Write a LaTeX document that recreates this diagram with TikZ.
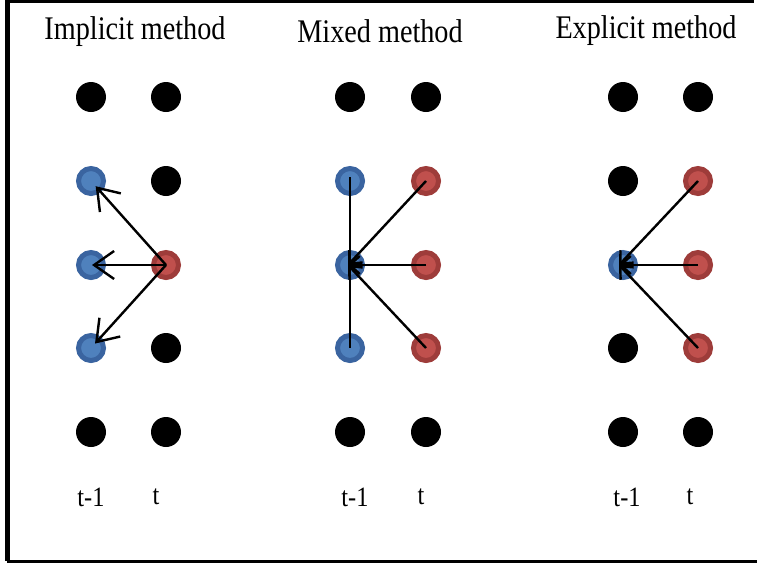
\documentclass[tikz,border=0pt]{standalone}
\usepackage{fontspec}
\setmainfont{Liberation Serif}
\usetikzlibrary{arrows.meta}
\definecolor{blueFill}{HTML}{4F81BD}
\definecolor{blueEdge}{HTML}{3A64A0}
\definecolor{redFill}{HTML}{C0504D}
\definecolor{redEdge}{HTML}{9E3C3A}
\tikzset{
  grid dot/.style={circle, inner sep=0pt, minimum size=30pt, fill=black},
  past dot/.style={circle, inner sep=0pt, minimum size=25pt, fill=blueFill, draw=blueEdge, line width=5pt},
  now dot/.style={circle, inner sep=0pt, minimum size=25pt, fill=redFill, draw=redEdge, line width=5pt},
  title/.style={font=\fontsize{33}{33}\selectfont, xscale=0.855, inner sep=0pt},
  timelabel/.style={font=\fontsize{28}{28}\selectfont, xscale=0.87, inner sep=0pt},
  link/.style={line width=2.4pt, black},
  bigarrow/.style={link, -{Straight Barb[length=20pt, width=28pt, line width=2.4pt]}},
  smallarrow/.style={link, -{Straight Barb[length=10pt, width=18pt, line width=2.4pt]}},
  frame/.style={black, line cap=rect}
}
\begin{document}
\begin{tikzpicture}[x=1pt, y=-1pt]
  \useasboundingbox (0,0) rectangle (757,565);
  \fill[white] (0,0) rectangle (757,565);

  % open frame
  \draw[frame, line width=3pt] (6,1.5) -- (752,1.5);
  \draw[frame, line width=5pt] (7.5,1) -- (7.5,558);
  \draw[frame, line width=3pt] (8,561.5) -- (757,561.5);

  % titles
  \node[title] (tImp) at (135,32) {Implicit method};
  \node[title] (tMix) at (380,31) {Mixed method};
  \node[title] (tExp) at (646,31) {Explicit method};

  % implicit method grid
  \node[grid dot] (a1) at (91,97) {};
  \node[grid dot] (b1) at (166,97) {};
  \node[past dot] (a2) at (91,181) {};
  \node[grid dot] (b2) at (166,181) {};
  \node[past dot] (a3) at (91,265) {};
  \node[now dot]  (b3) at (166,265) {};
  \node[past dot] (a4) at (91,348) {};
  \node[grid dot] (b4) at (166,348) {};
  \node[grid dot] (a5) at (91,432) {};
  \node[grid dot] (b5) at (166,432) {};

  % mixed method grid
  \node[grid dot] (c1) at (350,97) {};
  \node[grid dot] (d1) at (426,97) {};
  \node[past dot] (c2) at (350,181) {};
  \node[now dot]  (d2) at (426,181) {};
  \node[past dot] (c3) at (350,265) {};
  \node[now dot]  (d3) at (426,265) {};
  \node[past dot] (c4) at (350,348) {};
  \node[now dot]  (d4) at (426,348) {};
  \node[grid dot] (c5) at (350,432) {};
  \node[grid dot] (d5) at (426,432) {};

  % explicit method grid
  \node[grid dot] (e1) at (623,97) {};
  \node[grid dot] (f1) at (698,97) {};
  \node[grid dot] (e2) at (623,181) {};
  \node[now dot]  (f2) at (698,181) {};
  \node[past dot] (e3) at (623,265) {};
  \node[now dot]  (f3) at (698,265) {};
  \node[grid dot] (e4) at (623,348) {};
  \node[now dot]  (f4) at (698,348) {};
  \node[grid dot] (e5) at (623,432) {};
  \node[grid dot] (f5) at (698,432) {};

  % implicit connectors
  \draw[bigarrow, shorten >=7pt] (b3.center) -- (a2.center);
  \draw[bigarrow, shorten >=1pt] (b3.center) -- (a3.center);
  \draw[bigarrow, shorten >=6pt] (b3.center) -- (a4.center);

  % mixed connectors
  \draw[link] ([yshift=4pt]c2.center) -- (c4.center);
  \draw[smallarrow] (d2.center) -- ([xshift=-2pt]c3.center);
  \draw[smallarrow] (d3.center) -- ([xshift=-2pt]c3.center);
  \draw[smallarrow] (d4.center) -- ([xshift=-2pt]c3.center);

  % explicit connectors
  \draw[smallarrow] (f2.center) -- ([xshift=-4pt]e3.center);
  \draw[smallarrow] (f3.center) -- ([xshift=-4pt]e3.center);
  \draw[smallarrow] (f4.center) -- ([xshift=-4pt]e3.center);

  % time labels
  \node[timelabel] (l1) at (91,497) {t-1};
  \node[timelabel] (l2) at (156,497) {t};
  \node[timelabel] (l3) at (355,497) {t-1};
  \node[timelabel] (l4) at (421,497) {t};
  \node[timelabel] (l5) at (627,497) {t-1};
  \node[timelabel] (l6) at (690,497) {t};
\end{tikzpicture}
\end{document}
